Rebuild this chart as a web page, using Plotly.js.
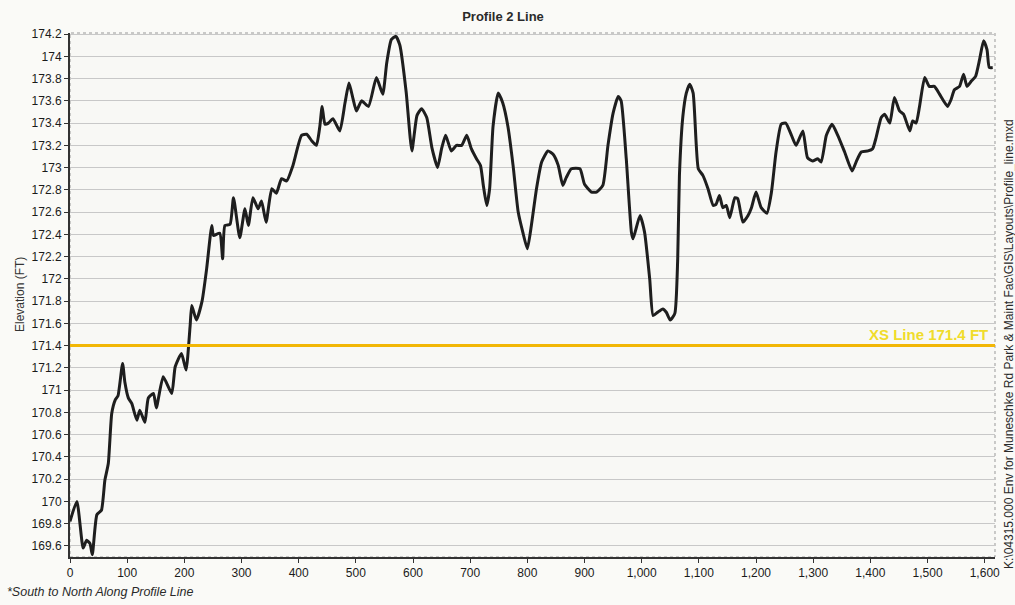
<!DOCTYPE html>
<html>
<head>
<meta charset="utf-8">
<script src="https://cdn.plot.ly/plotly-3.0.1.min.js"></script>
<style>
  html, body { margin: 0; padding: 0; background: #fafaf7; }
  #chart { width: 1015px; height: 605px; }
</style>
</head>
<body>
<div id="chart"></div>
<script>
// Distance along profile line (ft)
const distance = [0, 12, 23, 29, 35, 39, 47, 55, 61, 67, 73, 79, 84, 92, 96, 102, 108, 117, 122, 131, 137, 146, 151, 163, 178, 184, 195, 203, 210, 213, 221, 231, 239, 248, 251, 262, 267, 271, 280, 286, 297, 306, 312, 320, 329, 335, 343, 353, 361, 370, 379, 390, 405, 414, 423, 431, 437, 441, 446, 452, 460, 472, 481, 488, 495, 501, 510, 522, 536, 547, 554, 562, 570, 577, 588, 598, 607, 615, 624, 633, 643, 650, 657, 667, 676, 685, 694, 702, 711, 718, 723, 729, 734, 740, 749, 757, 766, 775, 784, 792, 800, 807, 816, 825, 836, 845, 854, 862, 868, 877, 892, 900, 912, 921, 932, 941, 950, 959, 964, 973, 982, 985, 997, 1005, 1014, 1020, 1028, 1037, 1043, 1050, 1058, 1063, 1066, 1072, 1078, 1084, 1090, 1099, 1107, 1116, 1125, 1130, 1136, 1142, 1148, 1154, 1163, 1168, 1177, 1186, 1192, 1200, 1209, 1219, 1227, 1235, 1244, 1252, 1262, 1270, 1282, 1290, 1299, 1308, 1314, 1323, 1333, 1343, 1355, 1368, 1375, 1384, 1396, 1404, 1410, 1419, 1425, 1434, 1442, 1451, 1458, 1469, 1474, 1480, 1486, 1495, 1503, 1512, 1521, 1535, 1541, 1547, 1556, 1563, 1569, 1577, 1584, 1591, 1598, 1604, 1608, 1614];

// Ground elevation (ft)
const elevation = [169.82, 170.0, 169.58, 169.65, 169.62, 169.52, 169.88, 169.92, 170.19, 170.34, 170.79, 170.91, 170.95, 171.24, 171.07, 170.93, 170.88, 170.73, 170.82, 170.71, 170.93, 170.97, 170.84, 171.12, 170.97, 171.21, 171.33, 171.18, 171.57, 171.76, 171.63, 171.8, 172.09, 172.48, 172.39, 172.41, 172.18, 172.48, 172.49, 172.73, 172.37, 172.63, 172.48, 172.73, 172.63, 172.70, 172.51, 172.81, 172.77, 172.9, 172.88, 173.02, 173.29, 173.3, 173.24, 173.2, 173.37, 173.55, 173.39, 173.4, 173.44, 173.33, 173.58, 173.76, 173.62, 173.51, 173.6, 173.55, 173.81, 173.66, 173.94, 174.15, 174.18, 174.1, 173.68, 173.15, 173.47, 173.53, 173.45, 173.18, 173.0, 173.17, 173.29, 173.15, 173.2, 173.2, 173.29, 173.17, 173.08, 173.02, 172.84, 172.66, 172.81, 173.37, 173.67, 173.58, 173.37, 173.02, 172.6, 172.42, 172.27, 172.48, 172.81, 173.05, 173.15, 173.12, 173.02, 172.84, 172.91, 172.99, 172.99, 172.85, 172.78, 172.78, 172.84, 173.2, 173.49, 173.64, 173.6, 173.08, 172.42, 172.36, 172.57, 172.42, 172.0, 171.67, 171.7, 171.73, 171.7, 171.63, 171.69, 172.18, 172.93, 173.46, 173.67, 173.75, 173.67, 172.99, 172.93, 172.81, 172.66, 172.67, 172.75, 172.64, 172.66, 172.55, 172.73, 172.72, 172.51, 172.57, 172.64, 172.78, 172.64, 172.59, 172.78, 173.14, 173.39, 173.4, 173.29, 173.2, 173.33, 173.09, 173.06, 173.08, 173.05, 173.29, 173.39, 173.29, 173.14, 172.97, 173.05, 173.14, 173.15, 173.17, 173.27, 173.45, 173.48, 173.4, 173.63, 173.51, 173.48, 173.33, 173.42, 173.4, 173.55, 173.81, 173.73, 173.73, 173.66, 173.55, 173.61, 173.7, 173.73, 173.84, 173.73, 173.78, 173.82, 173.97, 174.14, 174.06, 173.9, 173.9];

// Reference line
const xsLineElevation = 171.4;
const xsLineLabel = "XS Line 171.4 FT";

// Axis ticks
const xTicks = [0, 100, 200, 300, 400, 500, 600, 700, 800, 900, 1000, 1100, 1200, 1300, 1400, 1500, 1600];
const yTicks = [169.6, 169.8, 170, 170.2, 170.4, 170.6, 170.8, 171, 171.2, 171.4, 171.6, 171.8, 172, 172.2, 172.4, 172.6, 172.8, 173, 173.2, 173.4, 173.6, 173.8, 174, 174.2];
const yTickText = yTicks.map(v => String(+v.toFixed(1)));
const xTickText = xTicks.map(v => v.toLocaleString('en-US'));

const chartTitle = "Profile 2 Line";
const yTitle = "Elevation (FT)";
const footNote = "*South to North Along Profile Line";
const filePath = "K:\\04315.000 Env for Muneschke Rd Park & Maint Fac\\GIS\\Layouts\\Profile_line.mxd";

const font = "Liberation Sans, Arial, sans-serif";

const trace = {
  x: distance,
  y: elevation,
  type: 'scatter',
  mode: 'lines',
  line: { color: '#1e1e1e', width: 3, shape: 'spline', smoothing: 0.5 },
  hoverinfo: 'x+y',
  showlegend: false
};

const layout = {
  width: 1015,
  height: 605,
  margin: { l: 70, r: 20, t: 33, b: 48 },
  paper_bgcolor: '#fafaf7',
  plot_bgcolor: '#f8f8f5',
  font: { family: font, color: '#222', size: 12 },
  title: {
    text: '<b>' + chartTitle + '</b>',
    font: { family: font, size: 13, color: '#2a2a2a' },
    x: (503 - 70) / 925, xanchor: 'center', xref: 'paper',
    y: 1 - 16 / 605, yanchor: 'middle', yref: 'container'
  },
  xaxis: {
    range: [0, 1618],
    tickvals: xTicks,
    ticktext: xTickText,
    showgrid: false,
    zeroline: false,
    showline: true,
    linecolor: '#333',
    linewidth: 2,
    ticks: 'outside',
    ticklen: 4,
    tickcolor: '#333',
    tickfont: { family: font, size: 12, color: '#1a1a1a' }
  },
  yaxis: {
    range: [169.5, 174.21],
    tickvals: yTicks,
    ticktext: yTickText,
    showgrid: true,
    gridcolor: '#c8c8c8',
    gridwidth: 1,
    zeroline: false,
    showline: true,
    linecolor: '#333',
    linewidth: 2,
    ticks: 'outside',
    ticklen: 4,
    tickcolor: '#333',
    tickfont: { family: font, size: 12, color: '#1a1a1a' }
  },
  shapes: [
    {
      type: 'rect', xref: 'paper', yref: 'paper', x0: 0, x1: 1, y0: 0, y1: 1,
      line: { color: '#999', width: 1, dash: 'dot' }, layer: 'below'
    },
    {
      type: 'line', xref: 'paper', yref: 'y', x0: 0, x1: 1,
      y0: xsLineElevation, y1: xsLineElevation,
      line: { color: '#f2b705', width: 3 }
    }
  ],
  annotations: [
    {
      text: yTitle,
      xref: 'paper', yref: 'paper', x: (20 - 70) / 925, y: 0.5,
      xanchor: 'center', yanchor: 'middle', textangle: -90, showarrow: false,
      font: { family: font, size: 12, color: '#333' }
    },
    {
      text: '<b>' + xsLineLabel + '</b>',
      xref: 'paper', yref: 'y', x: 0.995, y: xsLineElevation,
      xanchor: 'right', yanchor: 'bottom', yshift: 1, showarrow: false,
      font: { family: font, size: 15, color: '#f0dc2a' }
    },
    {
      text: '<i>' + footNote + '</i>',
      xref: 'paper', yref: 'paper', x: (5 - 70) / 925, y: (557 - 592) / 524,
      xanchor: 'left', yanchor: 'middle', showarrow: false,
      font: { family: font, size: 12.5, color: '#2a2a2a' }
    },
    {
      text: filePath,
      xref: 'paper', yref: 'paper', x: (1009 - 70) / 925, y: (557 - 344) / 524,
      xanchor: 'center', yanchor: 'middle', textangle: -90, showarrow: false,
      font: { family: font, size: 12, color: '#2a2a2a' }
    }
  ]
};

Plotly.newPlot('chart', [trace], layout, { displayModeBar: false, staticPlot: true });
</script>
</body>
</html>
